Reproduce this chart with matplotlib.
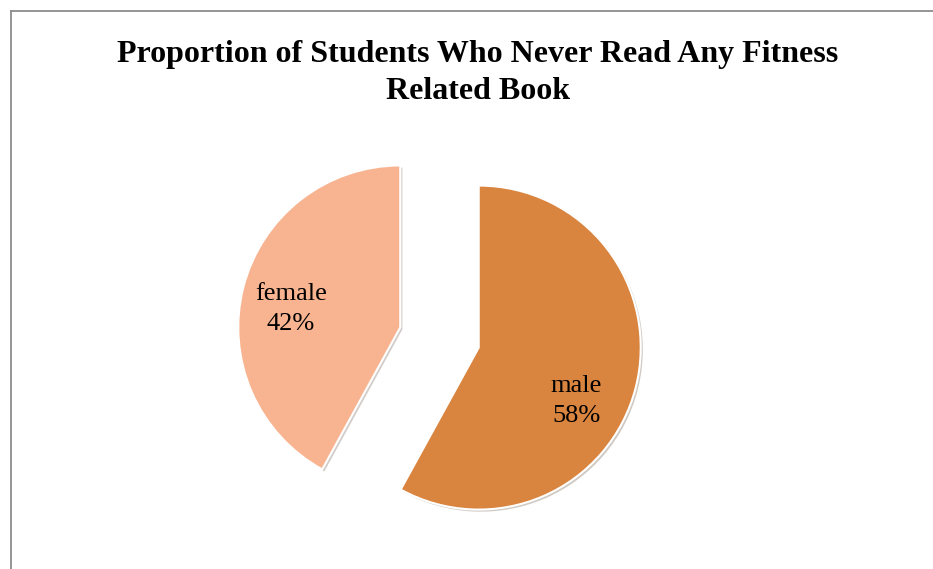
import matplotlib
matplotlib.use("Agg")
import matplotlib.pyplot as plt
import matplotlib.patheffects as pe
from matplotlib.lines import Line2D

categories = ["male", "female"]
values = [58, 42]
colors = ["#D9843F", "#F8B490"]
title = "Proportion of Students Who Never Read Any Fitness\nRelated Book"

W, H = 933, 569
fig = plt.figure(figsize=(W / 100, H / 100), dpi=100)
fig.patch.set_facecolor("white")

# pie axes: 1 data unit = R pixels, centre at (cx, cy) pixels from bottom-left
R = 162.0
cx, cy = 439.5, H - 337.5
ax = fig.add_axes([0, 0, 1, 1])
wedges, texts = ax.pie(values, colors=colors, startangle=90, counterclock=False,
                       explode=[0.25, 0.25], radius=1.0,
                       wedgeprops=dict(edgecolor="white", linewidth=1.5),
                       labels=[f"{c}\n{v}%" for c, v in zip(categories, values)],
                       labeldistance=0.67)
for w in wedges:
    w.set_path_effects([pe.SimplePatchShadow(offset=(1.5, -1.5), alpha=0.25), pe.Normal()])
ax.set_aspect("auto")
ax.set_xlim(-cx / R, (W - cx) / R)
ax.set_ylim(-cy / R, (H - cy) / R)
ax.axis("off")

# label placement (Excel best-fit style)
label_pos = {"male": (576, 401), "female": (291, 309)}
for t, c in zip(texts, categories):
    px, py = label_pos[c]
    t.set_position(((px - cx) / R, ((H - py) - cy) / R))
    t.set_ha("center")
    t.set_va("center")
    t.set_fontsize(19)
    t.set_family("Liberation Serif")
    t.set_linespacing(1.45)
    t.set_color("black")

fig.text(478 / W, 1 - 73 / H, title, ha="center", va="center", fontsize=23,
         fontweight="bold", family="Liberation Serif", linespacing=1.33)

# chart frame (top and left visible)
fig.add_artist(Line2D([10.5 / W, 10.5 / W], [0, 1 - 11 / H], transform=fig.transFigure,
                      color="#8c8c8c", linewidth=1.3))
fig.add_artist(Line2D([10.5 / W, 1], [1 - 11 / H, 1 - 11 / H], transform=fig.transFigure,
                      color="#8c8c8c", linewidth=1.3))

fig.savefig("out.png", dpi=100)
